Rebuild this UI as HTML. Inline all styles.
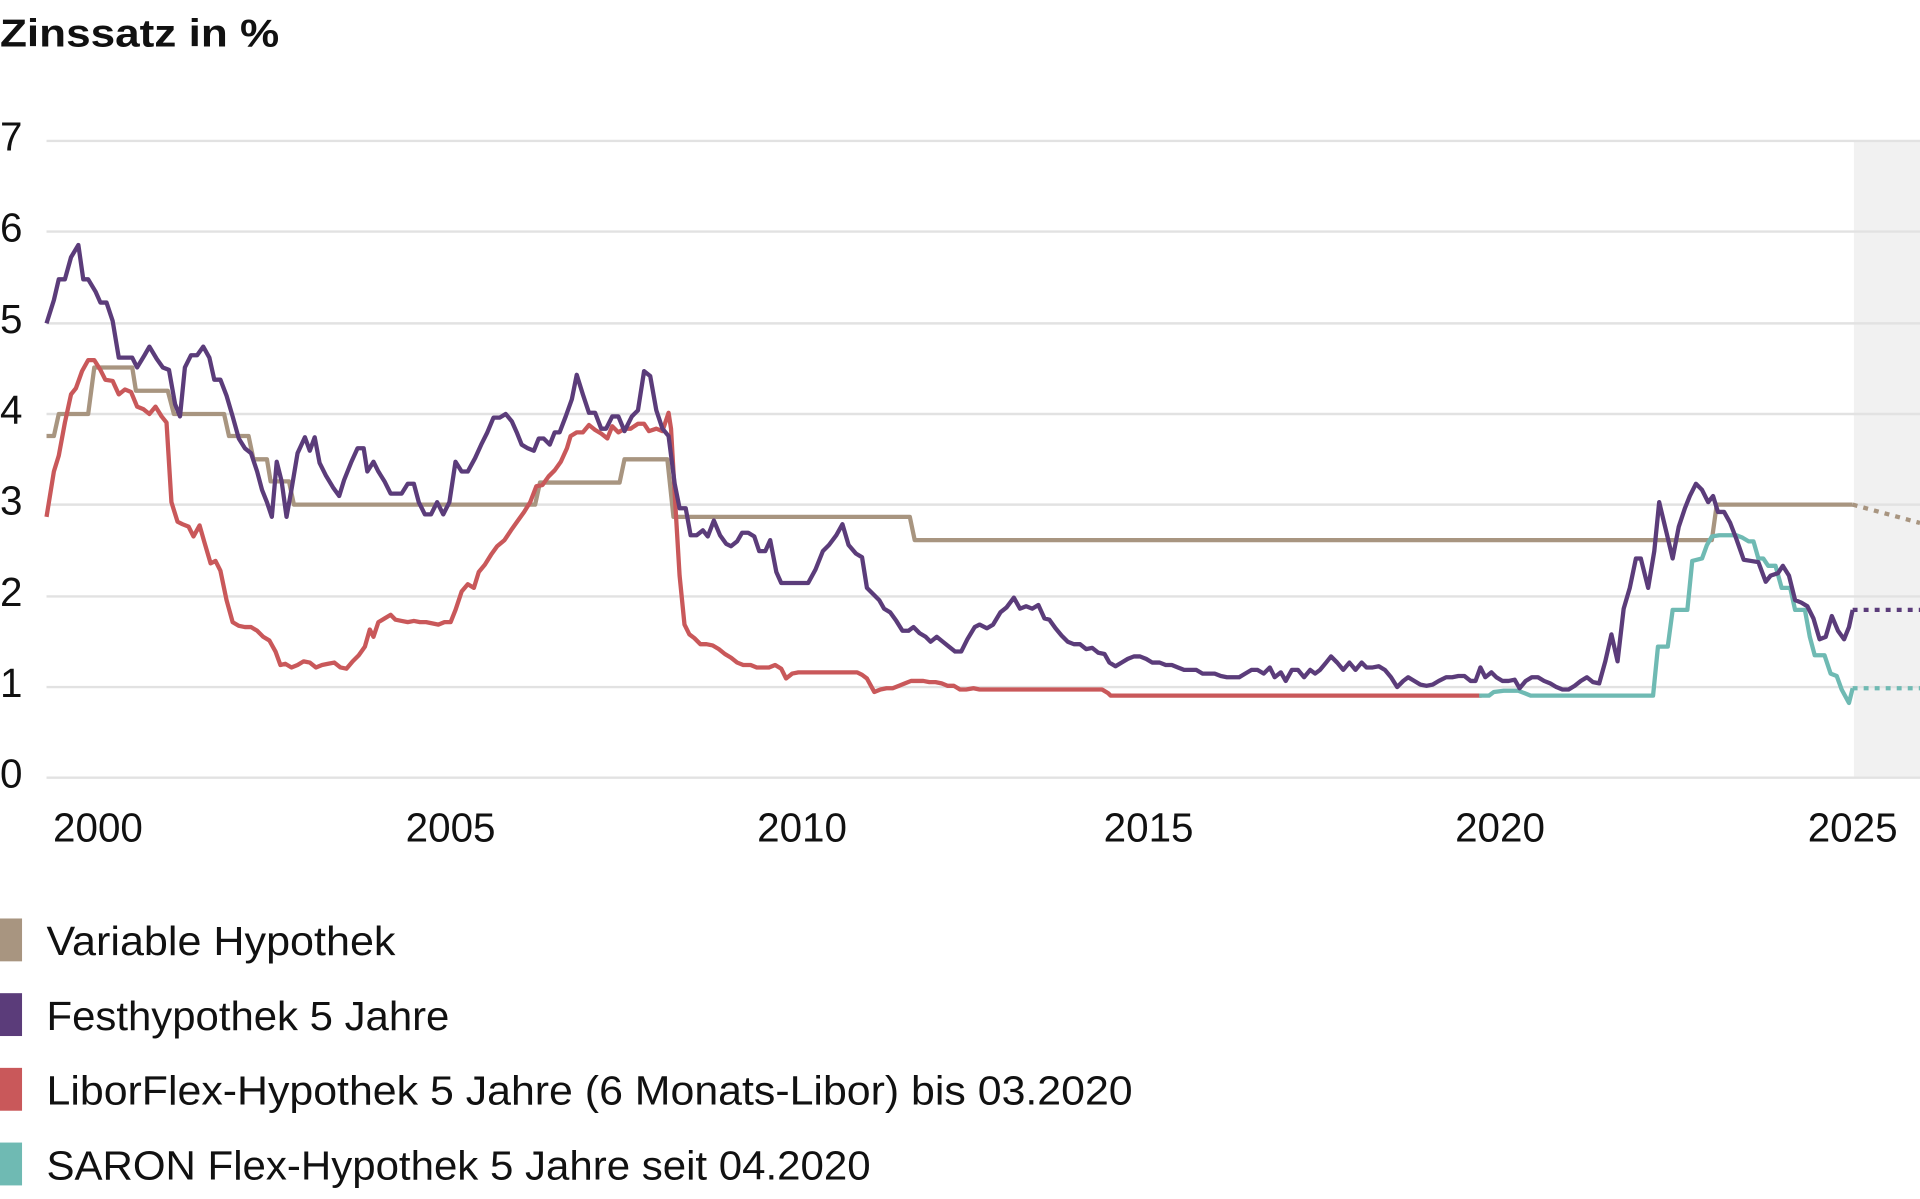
<!DOCTYPE html>
<html><head><meta charset="utf-8"><style>
html,body{margin:0;padding:0;background:#fff;}
svg{display:block;}
text{font-family:"Liberation Sans",sans-serif;fill:#111;}
</style></head><body>
<svg width="1920" height="1199" viewBox="0 0 1568 979" xmlns="http://www.w3.org/2000/svg">
<text x="0" y="38" font-size="32" font-weight="bold" textLength="228" lengthAdjust="spacingAndGlyphs">Zinssatz in %</text>
<rect x="1514" y="115" width="54" height="520" fill="#f1f1f1"/>
<g stroke="#e2e2e2" stroke-width="2">
<line x1="38" x2="1568" y1="115" y2="115"/><line x1="38" x2="1568" y1="189" y2="189"/>
<line x1="38" x2="1568" y1="264" y2="264"/><line x1="38" x2="1568" y1="338" y2="338"/>
<line x1="38" x2="1568" y1="412" y2="412"/><line x1="38" x2="1568" y1="487" y2="487"/>
<line x1="38" x2="1568" y1="561" y2="561"/><line x1="38" x2="1568" y1="635" y2="635"/>
</g>
<g font-size="33">
<text x="0" y="123">7</text><text x="0" y="197">6</text><text x="0" y="272">5</text><text x="0" y="346">4</text>
<text x="0" y="420">3</text><text x="0" y="495">2</text><text x="0" y="569">1</text><text x="0" y="643">0</text>
</g>
<g font-size="33" text-anchor="middle">
<text x="80" y="687">2000</text><text x="368" y="687">2005</text><text x="655" y="687">2010</text>
<text x="938" y="687">2015</text><text x="1225" y="687">2020</text><text x="1513" y="687">2025</text>
</g>
<g fill="none" stroke-width="3.5" stroke-linejoin="round">
<polyline stroke="#a89580" points="38,356 44,356 48,338 72,338 77,300 108,300 111,319 137,319 142,338 183,338 187,356 203,356 207,375 218,375 221,393 236,393 240,412 437,412 441,394 506,394 510,375 545,375 550,422 743,422 747,441 1398,441 1402,412 1513,412"/>
<polyline stroke="#a89580" stroke-dasharray="4,5" points="1513,412 1568,427"/>
<polyline stroke="#c9585a" points="38,422 44,385 48,372 53,345 58,322 62,317 67,303 72,294 77,294 82,302 86,310 92,311 97,322 102,318 107,320 112,332 117,334 122,338 127,332 132,340 136,345 140,410 145,426 149,428 154,430 158,438 163,429 167,443 172,460 176,458 180,466 185,490 190,508 195,511 200,512 205,512 210,515 215,520 220,523 225,532 229,543 233,542 238,545 243,543 248,540 253,541 258,545 263,543 268,542 273,541 278,545 283,546 288,540 293,535 298,528 302,514 305,520 309,508 314,505 319,502 323,506 328,507 333,508 338,507 343,508 348,508 353,509 358,510 363,508 368,508 372,498 377,483 382,477 387,480 391,467 396,461 401,453 406,446 412,441 418,432 423,425 428,418 433,410 438,397 443,396 448,389 453,384 458,377 463,366 466,356 471,353 476,353 481,347 486,351 491,354 496,358 500,348 505,353 510,350 515,350 521,346 526,346 530,352 536,350 541,352 546,337 548,350 552,420 555,470 559,510 563,518 567,521 572,526 577,526 582,527 587,530 592,534 597,537 602,541 607,543 613,543 618,545 623,545 628,545 633,543 638,546 642,554 647,550 652,549 657,549 700,549 704,551 708,554 714,565 719,563 724,562 729,562 734,560 739,558 744,556 749,556 754,556 759,557 764,557 769,558 774,560 779,560 784,563 789,563 795,562 800,563 900,563 905,566 907,568 1210,568"/>
<polyline stroke="#6fbab3" points="1208,568 1216,568 1220,565 1228,564 1240,564 1245,566 1250,568 1350,568 1354,528 1362,528 1366,498 1378,498 1382,458 1390,456 1394,445 1398,438 1404,437 1418,437 1423,439 1428,442 1432,442 1436,456 1440,456 1444,462 1450,462 1455,480 1462,480 1466,498 1474,498 1478,520 1482,535 1490,535 1495,550 1500,552 1504,563 1510,574 1513,562"/>
<polyline stroke="#6fbab3" stroke-dasharray="4,5" points="1513,562 1568,562"/>
<polyline stroke="#5b3c7a" points="38,264 44,245 48,228 53,228 58,210 64,200 68,228 72,228 78,238 82,247 87,247 92,262 97,292 103,292 108,292 112,300 118,290 122,283 128,293 133,300 138,302 143,330 147,340 151,300 156,290 161,290 166,283 171,292 175,310 180,310 185,323 190,340 195,358 200,366 205,370 210,385 214,400 218,410 222,422 226,377 230,393 234,422 238,400 243,370 249,357 253,368 257,357 261,378 266,388 272,398 277,405 281,392 287,377 292,366 297,366 300,385 305,377 309,385 314,393 319,403 323,403 328,403 333,395 338,395 342,410 347,420 352,420 357,410 362,420 367,410 372,377 377,385 382,385 388,374 393,363 398,353 403,341 408,341 413,338 418,344 422,353 426,363 431,366 436,368 440,358 444,358 449,363 453,353 457,353 462,340 467,326 471,306 476,322 481,337 486,337 491,350 495,350 500,340 505,340 510,352 516,340 521,335 526,303 531,307 536,335 541,350 546,356 551,395 555,415 560,415 564,437 569,437 574,433 578,438 583,425 588,437 593,444 597,446 602,442 606,435 611,435 616,438 620,450 625,450 629,441 634,467 638,476 645,476 660,476 666,465 672,450 677,445 683,437 688,428 693,445 699,452 704,455 708,480 713,485 718,490 722,497 727,500 732,507 737,515 742,515 746,512 751,517 756,520 760,524 765,520 770,524 775,528 780,532 785,532 790,522 796,512 800,510 806,513 811,510 817,500 822,496 828,488 833,497 838,495 843,497 848,494 853,505 857,506 862,513 867,519 872,524 877,526 882,526 887,530 892,529 897,533 902,534 906,541 911,544 916,541 921,538 926,536 931,536 936,538 941,541 947,541 952,543 957,543 962,545 967,547 972,547 977,547 982,550 987,550 992,550 997,552 1002,553 1007,553 1012,553 1017,550 1022,547 1027,547 1032,550 1037,545 1041,553 1046,549 1050,556 1055,547 1060,547 1065,553 1070,547 1074,550 1078,547 1083,541 1087,536 1092,541 1097,547 1102,541 1107,547 1112,541 1116,545 1121,545 1126,544 1131,547 1136,553 1141,561 1146,556 1150,553 1155,556 1160,559 1165,560 1170,559 1175,556 1181,553 1186,553 1191,552 1196,552 1201,556 1205,556 1209,545 1213,553 1218,549 1222,553 1227,556 1232,556 1237,555 1241,562 1246,556 1251,553 1256,553 1261,556 1266,558 1271,561 1276,563 1281,563 1286,560 1291,556 1296,553 1301,557 1306,558 1311,540 1316,518 1321,540 1326,497 1331,480 1336,456 1340,456 1346,480 1351,450 1355,410 1361,435 1366,456 1371,430 1376,415 1380,405 1385,395 1390,400 1395,410 1399,405 1403,418 1408,418 1413,427 1418,440 1424,457 1430,458 1436,459 1442,475 1446,470 1452,468 1456,462 1461,470 1466,490 1471,492 1476,495 1481,505 1486,522 1491,520 1496,503 1501,515 1506,522 1510,512 1513,498"/>
<polyline stroke="#5b3c7a" stroke-dasharray="4,5" points="1513,498 1568,498"/>
</g>
<rect x="0" y="750" width="18" height="35" fill="#a89580"/>
<rect x="0" y="811" width="18" height="35" fill="#5b3c7a"/>
<rect x="0" y="872" width="18" height="35" fill="#c9585a"/>
<rect x="0" y="933" width="18" height="35" fill="#6fbab3"/>
<g font-size="33">
<text x="38" y="780" textLength="285" lengthAdjust="spacingAndGlyphs">Variable Hypothek</text>
<text x="38" y="841" textLength="329" lengthAdjust="spacingAndGlyphs">Festhypothek 5 Jahre</text>
<text x="38" y="902" textLength="887" lengthAdjust="spacingAndGlyphs">LiborFlex-Hypothek 5 Jahre (6 Monats-Libor) bis 03.2020</text>
<text x="38" y="963" textLength="673" lengthAdjust="spacingAndGlyphs">SARON Flex-Hypothek 5 Jahre seit 04.2020</text>
</g>
</svg>
</body></html>
